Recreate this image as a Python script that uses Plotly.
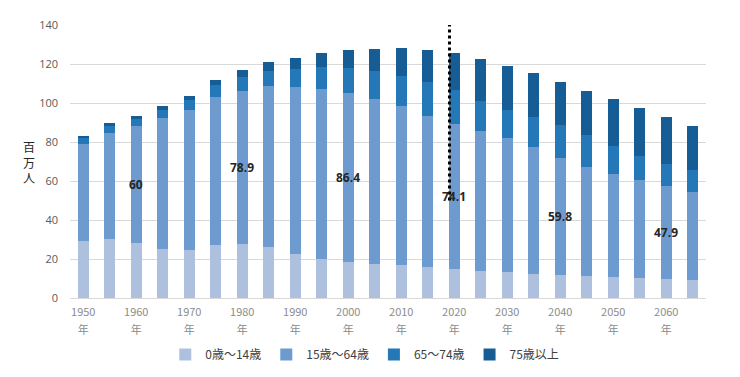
import plotly.graph_objects as go

years = [1950, 1955, 1960, 1965, 1970, 1975, 1980, 1985, 1990, 1995, 2000, 2005,
         2010, 2015, 2020, 2025, 2030, 2035, 2040, 2045, 2050, 2055, 2060, 2065]
age_0_14 = [29.4, 30.1, 28.1, 25.2, 24.8, 27.2, 27.5, 26.0, 22.5, 20.0, 18.5, 17.5,
            16.8, 15.9, 15.1, 14.1, 13.2, 12.5, 11.9, 11.4, 10.8, 10.1, 9.5, 9.0]
age_15_64 = [49.7, 54.7, 60.0, 66.9, 71.6, 75.8, 78.9, 82.5, 85.9, 87.2, 86.4, 84.6,
             81.9, 77.3, 74.1, 71.7, 68.8, 64.9, 59.8, 55.8, 52.8, 50.3, 47.9, 45.3]
age_65_74 = [3.1, 3.3, 3.7, 4.3, 5.1, 6.0, 7.0, 7.8, 8.9, 11.1, 13.1, 14.2,
             15.1, 17.6, 17.6, 15.0, 14.3, 15.2, 16.8, 16.4, 14.2, 12.3, 11.3, 11.5]
age_75_plus = [1.1, 1.4, 1.6, 1.9, 2.2, 2.8, 3.7, 4.7, 6.0, 7.2, 9.0, 11.5,
               14.2, 16.3, 18.6, 21.8, 22.9, 22.6, 22.4, 22.8, 24.2, 24.6, 24.0, 22.3]

series_names = ["0歳～14歳", "15歳～64歳", "65～74歳", "75歳以上"]
series_colors = ["#adc1de", "#6e9bcf", "#2478b8", "#175d95"]

tick_years = [1950, 1960, 1970, 1980, 1990, 2000, 2010, 2020, 2030, 2040, 2050, 2060]
tick_text = [f"<span style='font-size:11px'>{y}</span><br><span style='font-size:11px'>年</span>"
             for y in tick_years]
label_years = [1960, 1980, 2000, 2020, 2040, 2060]
y_ticks = [0, 20, 40, 60, 80, 100, 120, 140]
divider_year = 2020

fig = go.Figure()
for name, vals, col in zip(series_names, [age_0_14, age_15_64, age_65_74, age_75_plus], series_colors):
    fig.add_trace(go.Bar(x=years, y=vals, name=name, marker=dict(color=col, line=dict(width=0))))

# data labels: 15-64 value at middle of its segment
for yr in label_years:
    i = years.index(yr)
    mid = age_0_14[i] + age_15_64[i] / 2
    txt = f"{age_15_64[i]:g}"
    fig.add_annotation(x=yr, y=mid, text=txt, showarrow=False,
                       font=dict(family="Open Sans", size=12, color="#262626", weight="bold"))

# dotted divider line
fig.add_shape(type="line", x0=divider_year - 0.9, x1=divider_year - 0.9, y0=50, y1=141,
              xref="x", yref="y", line=dict(color="black", width=3, dash="dot"))

# y axis title
fig.add_annotation(xref="paper", yref="y", x=-0.0644, y=70, text="百<br>万<br>人",
                   showarrow=False, align="center", xanchor="center", yanchor="middle",
                   font=dict(family="Noto Sans CJK JP", size=12, color="#262626"))

fig.update_layout(
    barmode="stack",
    bargap=0.6,
    width=732, height=369,
    margin=dict(l=62, r=33.5, t=17, b=78.5, autoexpand=False),
    plot_bgcolor="white", paper_bgcolor="white",
    font=dict(family="Noto Sans CJK JP", color="#595959"),
    xaxis=dict(range=[1947.5, 2067.5], tickvals=tick_years, ticktext=tick_text,
               showgrid=False, zeroline=False, showline=True, linecolor="#d9d9d9",
               ticks="", automargin=False,
               tickfont=dict(family="Liberation Sans Narrow, Noto Sans CJK JP", size=14, color="#8c8c8c")),
    yaxis=dict(range=[0, 140], tickvals=y_ticks, showgrid=True, gridcolor="#d9d9d9",
               zeroline=False, ticks="", automargin=False,
               tickfont=dict(family="Open Sans", size=11, color="#595959"),
               ticklabelstandoff=11),
    legend=dict(orientation="h", x=0.4635, y=-0.2066, xanchor="center", yanchor="middle",
                font=dict(family="Liberation Sans Narrow, Noto Sans CJK JP", size=12, color="#404040"),
                itemwidth=30, traceorder="normal"),
    showlegend=True,
)

fig.write_html("out.html")
